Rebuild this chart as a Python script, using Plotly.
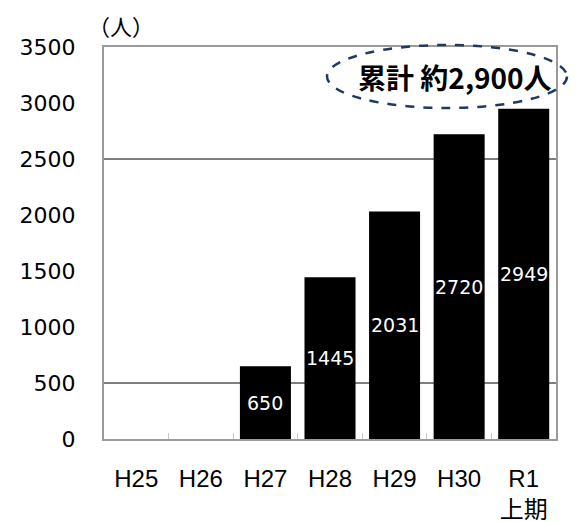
import plotly.graph_objects as go

categories = ["H25", "H26", "H27", "H28", "H29", "H30", "R1<br>上期"]
values = [None, None, 650, 1445, 2031, 2720, 2949]
bar_labels = ["", "", "650", "1445", "2031", "2720", "2949"]
y_ticks = [0, 500, 1000, 1500, 2000, 2500, 3000, 3500]
grid_values = [500, 2500]

FONT = "Liberation Sans, Arial, Noto Sans CJK JP, sans-serif"
WIDE = "DejaVu Sans, Noto Sans CJK JP, sans-serif"

fig = go.Figure()
fig.add_trace(go.Bar(
    x=categories, y=values,
    marker=dict(color="#000000", line=dict(width=0)),
    width=0.79,
))

for cat, v, lab in zip(categories, values, bar_labels):
    if v:
        fig.add_annotation(x=cat, y=v / 2, text=lab, showarrow=False,
                           xanchor="center", yanchor="middle",
                           font=dict(color="white", size=19, family=WIDE))

for g in grid_values:
    fig.add_shape(type="line", xref="paper", x0=0, x1=1, yref="y", y0=g, y1=g,
                  line=dict(color="#000000", width=1), layer="below")

fig.update_layout(
    width=579, height=522,
    margin=dict(l=104, r=23, t=47, b=83),
    plot_bgcolor="white", paper_bgcolor="white",
    showlegend=False,
    font=dict(family=FONT, size=18, color="#000000"),
    xaxis=dict(type="category", showgrid=False, showline=True, mirror=True,
               linecolor="#9a9a9a", linewidth=2, ticks="inside", tickson="boundaries",
               ticklen=6, tickcolor="#c8c8c8", tickwidth=1, automargin=False,
               tickfont=dict(size=24, family=FONT), ticklabelstandoff=17),
    yaxis=dict(range=[0, 3500], tickvals=y_ticks, showgrid=False, zeroline=False,
               showline=True, mirror=True, linecolor="#9a9a9a", linewidth=2,
               ticks="", automargin=False,
               tickfont=dict(size=22, family=WIDE), ticklabelstandoff=22),
)

fig.add_annotation(text="（人）", xref="paper", yref="paper", x=(86 - 104) / 452, y=1.0,
                   xanchor="left", yanchor="bottom", showarrow=False, yshift=4,
                   font=dict(size=22, family="Noto Sans CJK JP"))

fig.add_shape(type="circle", xref="paper", yref="paper",
              x0=(327 - 104) / 452, x1=(567 - 104) / 452,
              y0=(439 - 108) / 392, y1=(439 - 45) / 392,
              line=dict(color="#1f3a5f", width=2.5, dash="dash"))
fig.add_annotation(text="<b>累計 約2,900人</b>", xref="paper", yref="paper",
                   x=(455 - 104) / 452, y=(439 - 77) / 392, showarrow=False,
                   xanchor="center", yanchor="middle",
                   font=dict(size=28, family="Noto Sans CJK JP", color="#000000"))

fig.write_html("out.html", config={"displayModeBar": False},
               post_script="document.body.style.margin='0';document.body.style.padding='0';")
